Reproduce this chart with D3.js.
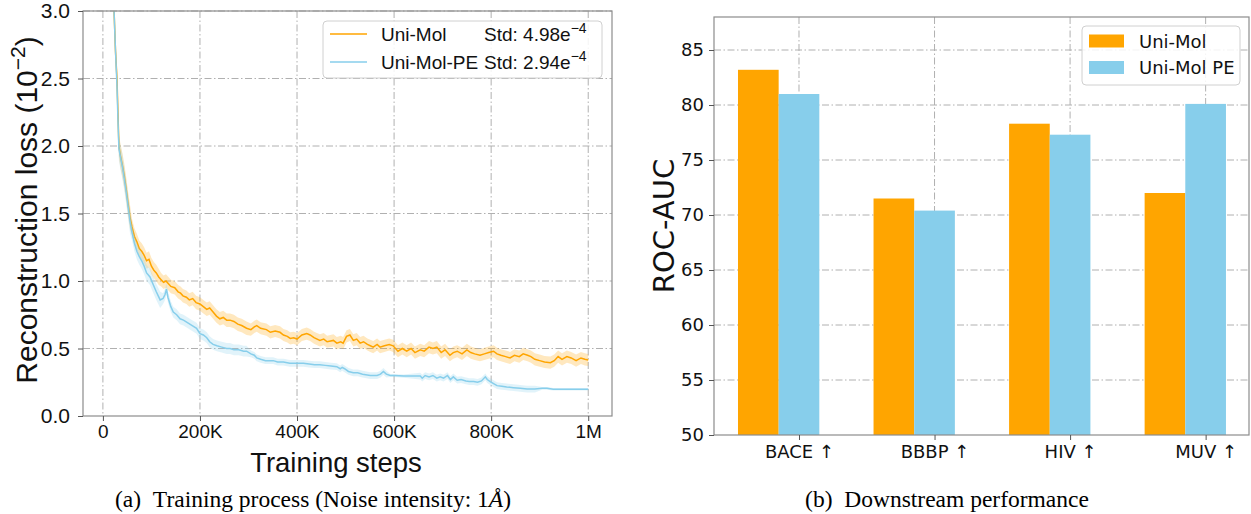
<!DOCTYPE html>
<html><head><meta charset="utf-8">
<script src="https://cdn.jsdelivr.net/npm/d3@7/dist/d3.min.js"></script>
<style>body{margin:0;background:#fff}svg{display:block}</style>
</head><body>
<svg id="c" width="1251" height="514"></svg>
<script>
// ---------- Data: left chart (training loss, units of 1e-2) ----------
const steps = [20,23,26,29,31,33,36,40,44,48,52,56,60,65,70,75,80,85,90,95,100,105,110,115,120,125,130,135,140,148,155,160,165,172,178,185,192,200,207,214,220,227,234,241,248,255,262,270,278,286,296,305,312,317,325,337,345,355,365,372,380,386,393,400,410,420,427,435,447,455,462,475,482,490,495,502,509,516,523,530,537,545,551,557,565,571,580,590,598,608,617,626,635,643,654,662,672,680,688,697,705,715,722,730,740,750,758,766,777,786,795,805,812,820,830,839,848,858,866,875,882,890,900,910,922,930,938,946,956,965,975,985,993,1000];
const uniMol = [3.6,3.0,2.7,2.5,2.25,2.0,1.93,1.86,1.78,1.68,1.57,1.47,1.40,1.33,1.29,1.24,1.22,1.19,1.15,1.16,1.11,1.08,1.06,1.03,1.01,0.99,1.00,0.98,0.96,0.95,0.92,0.91,0.89,0.88,0.86,0.87,0.84,0.83,0.81,0.79,0.80,0.77,0.74,0.72,0.73,0.71,0.71,0.70,0.68,0.67,0.65,0.64,0.66,0.67,0.65,0.64,0.62,0.63,0.62,0.60,0.59,0.575,0.58,0.57,0.60,0.61,0.60,0.58,0.56,0.57,0.55,0.56,0.54,0.55,0.54,0.59,0.60,0.56,0.57,0.54,0.55,0.53,0.52,0.51,0.53,0.51,0.52,0.53,0.52,0.48,0.50,0.48,0.50,0.47,0.49,0.48,0.51,0.50,0.51,0.47,0.49,0.45,0.47,0.48,0.46,0.49,0.47,0.46,0.45,0.46,0.47,0.48,0.46,0.45,0.44,0.43,0.45,0.44,0.46,0.45,0.44,0.42,0.41,0.40,0.395,0.41,0.44,0.42,0.44,0.43,0.41,0.43,0.42,0.415];
const stepsPE = [20,23,26,29,31,33,36,40,44,48,52,56,60,65,70,75,80,85,90,97,104,110,118,124,128,131,134,140,145,152,159,166,175,184,193,200,207,214,220,227,235,245,255,262,270,280,290,296,305,312,317,325,335,345,351,360,372,385,399,413,425,436,447,458,470,482,489,493,498,506,516,525,535,551,565,572,578,584,592,600,620,654,658,664,672,680,688,695,702,710,716,722,730,738,748,755,764,772,780,788,792,798,805,812,822,832,846,860,874,890,905,915,928,950,975,1000];
const uniMolPE = [3.6,3.0,2.7,2.45,2.2,1.98,1.92,1.85,1.76,1.66,1.55,1.44,1.36,1.28,1.22,1.18,1.15,1.11,1.06,1.03,0.97,0.92,0.86,0.87,0.90,0.94,0.88,0.81,0.77,0.75,0.72,0.71,0.69,0.67,0.65,0.61,0.60,0.58,0.55,0.53,0.52,0.51,0.50,0.50,0.49,0.49,0.48,0.48,0.46,0.45,0.43,0.42,0.41,0.41,0.41,0.40,0.40,0.39,0.39,0.39,0.385,0.38,0.38,0.375,0.37,0.365,0.35,0.36,0.35,0.33,0.32,0.32,0.31,0.30,0.30,0.31,0.33,0.31,0.30,0.30,0.296,0.296,0.28,0.30,0.29,0.30,0.28,0.29,0.28,0.30,0.27,0.29,0.265,0.27,0.26,0.255,0.255,0.25,0.26,0.29,0.27,0.254,0.24,0.225,0.22,0.215,0.21,0.205,0.20,0.20,0.205,0.205,0.198,0.198,0.198,0.198];
// band half-widths (std) by step range: [from step K, half-width]
const bandUniMol = [[0,0.09],[60,0.06],[120,0.05],[300,0.045]];
const bandUniMolPE = [[0,0.09],[60,0.06],[120,0.04],[300,0.025],[592,0.012],[654,0.025],[900,0.01]];
const xTickVals = [0,200,400,600,800,1000];
const xTickLabels = ["0","200K","400K","600K","800K","1M"];
const yTickVals = [0,0.5,1,1.5,2,2.5,3];

// ---------- Data: right chart (ROC-AUC) ----------
const tasks = ["BACE \u2191","BBBP \u2191","HIV \u2191","MUV \u2191"];
const aucUniMol = [83.2,71.5,78.3,72.0];
const aucUniMolPE = [81.0,70.4,77.3,80.1];
const aucTicks = [50,55,60,65,70,75,80,85];

const ORANGE = "#FFA500", BLUE = "#87CEEB";
const GRID = "#b0b0b0", SPINE = "#8c8c8c";
const LF = "'Liberation Sans', Arial, sans-serif";
const DF = "'DejaVu Sans', Verdana, sans-serif";
const SF = "'Liberation Serif', 'Times New Roman', serif";
const svg = d3.select("#c");

// ================= LEFT CHART =================
const L = {l:83, r:612, t:11, b:416};
const xL = d3.scaleLinear().domain([-41, 1049]).range([L.l, L.r]);
const yL = d3.scaleLinear().domain([0, 3]).range([L.b, L.t]);
const gL = svg.append("g");
svg.append("defs").append("clipPath").attr("id","clipL")
  .append("rect").attr("x",L.l).attr("y",L.t).attr("width",L.r-L.l).attr("height",L.b-L.t);

gL.append("g").selectAll("line").data(xTickVals).join("line")
  .attr("x1",d=>xL(d)).attr("x2",d=>xL(d)).attr("y1",L.t).attr("y2",L.b)
  .attr("stroke",GRID).attr("stroke-width",1).attr("stroke-dasharray","7,2.5,1.5,2.5");
gL.append("g").selectAll("line").data(yTickVals.slice(1)).join("line")
  .attr("x1",L.l).attr("x2",L.r).attr("y1",d=>yL(d)).attr("y2",d=>yL(d))
  .attr("stroke",GRID).attr("stroke-width",1).attr("stroke-dasharray","7,2.5,1.5,2.5");

function bandOf(table, s){ let w = table[0][1]; for (const [k,v] of table) if (s>=k) w=v; return w; }
function drawSeries(xs, ys, band, color){
  const pts = xs.map((s,i)=>({s, v:ys[i], w:bandOf(band,s)}));
  const area = d3.area().x(d=>xL(d.s)).y0(d=>yL(d.v-d.w)).y1(d=>yL(d.v+d.w));
  const line = d3.line().x(d=>xL(d.s)).y(d=>yL(d.v));
  gL.append("path").attr("d",area(pts)).attr("fill",color).attr("fill-opacity",0.25).attr("clip-path","url(#clipL)");
  gL.append("path").attr("d",line(pts)).attr("fill","none").attr("stroke",color).attr("stroke-width",1.5).attr("clip-path","url(#clipL)");
}
drawSeries(steps, uniMol, bandUniMol, ORANGE);
drawSeries(stepsPE, uniMolPE, bandUniMolPE, BLUE);

gL.append("rect").attr("x",L.l).attr("y",L.t).attr("width",L.r-L.l).attr("height",L.b-L.t)
  .attr("fill","none").attr("stroke",SPINE).attr("stroke-width",1.2);

const axXL = gL.append("g").attr("transform",`translate(0,${L.b})`)
  .call(d3.axisBottom(xL).tickValues(xTickVals).tickFormat((d,i)=>xTickLabels[i]).tickSize(5).tickPadding(4));
const axYL = gL.append("g").attr("transform",`translate(${L.l},0)`)
  .call(d3.axisLeft(yL).tickValues(yTickVals).tickFormat(d3.format(".1f")).tickSize(5).tickPadding(8));
[axXL, axYL].forEach(a=>{
  a.select(".domain").remove();
  a.selectAll("line").attr("stroke","#555");
  a.selectAll("text").attr("font-family",LF).attr("fill","#111");
});
axXL.selectAll("text").attr("font-size",19);
axYL.selectAll("text").attr("font-size",21);

gL.append("text").attr("x",336).attr("y",472).attr("text-anchor","middle")
  .attr("font-family",LF).attr("font-size",27.5).attr("fill","#111")
  .text("Training steps");
const yl = gL.append("text").attr("transform","translate(37,210) rotate(-90)").attr("text-anchor","middle")
  .attr("font-family",LF).attr("font-size",30).attr("fill","#111");
yl.append("tspan").text("Reconstruction loss (10");
yl.append("tspan").attr("dy",-12).attr("font-size",21).text("\u22122");
yl.append("tspan").attr("dy",12).text(")");

const lg = gL.append("g");
lg.append("rect").attr("x",323).attr("y",21).attr("width",279).attr("height",57).attr("rx",4)
  .attr("fill","#fff").attr("fill-opacity",0.85).attr("stroke","#d0d0d0").attr("stroke-width",1);
const legL = [
  {name:"Uni-Mol", std:"4.98", color:ORANGE, y:34},
  {name:"Uni-Mol-PE", std:"2.94", color:BLUE, y:62}
];
legL.forEach(d=>{
  lg.append("line").attr("x1",330).attr("x2",367).attr("y1",d.y).attr("y2",d.y).attr("stroke",d.color).attr("stroke-width",1.5);
  lg.append("text").attr("x",381).attr("y",d.y+7).attr("font-family",LF)
    .attr("font-size",19).attr("fill","#111").text(d.name);
  const t = lg.append("text").attr("x",484).attr("y",d.y+7).attr("font-family",LF)
    .attr("font-size",19).attr("fill","#111");
  t.append("tspan").text("Std: "+d.std+"e");
  t.append("tspan").attr("dy",-8).attr("font-size",14).text("\u22124");
});

const capA = svg.append("text").attr("x",313).attr("y",507).attr("text-anchor","middle")
  .attr("font-family",SF).attr("font-size",23.5).attr("fill","#000");
capA.append("tspan").text("(a)\u2002Training process (Noise intensity: 1");
capA.append("tspan").attr("font-style","italic").text("\u00C5");
capA.append("tspan").text(")");

// ================= RIGHT CHART =================
const R = {l:714, r:1249, t:17, b:435};
const xR = d3.scaleLinear().domain([-0.627, 3.32]).range([R.l, R.r]);
const yR = d3.scaleLinear().domain([50, 88]).range([R.b, R.t]);
const gR = svg.append("g");
const idx = tasks.map((_,i)=>i);

gR.append("g").selectAll("line").data(idx).join("line")
  .attr("x1",d=>xR(d)).attr("x2",d=>xR(d)).attr("y1",R.t).attr("y2",R.b)
  .attr("stroke",GRID).attr("stroke-width",1).attr("stroke-dasharray","7,2.5,1.5,2.5");
gR.append("g").selectAll("line").data(aucTicks.slice(1)).join("line")
  .attr("x1",R.l).attr("x2",R.r).attr("y1",d=>yR(d)).attr("y2",d=>yR(d))
  .attr("stroke",GRID).attr("stroke-width",1).attr("stroke-dasharray","7,2.5,1.5,2.5");

const W = 0.3;
gR.append("g").selectAll("rect").data(aucUniMol).join("rect")
  .attr("x",(d,i)=>xR(i-1.5*W)).attr("width",(d,i)=>xR(i-0.5*W)-xR(i-1.5*W))
  .attr("y",d=>yR(d)).attr("height",d=>yR(50)-yR(d)).attr("fill",ORANGE);
gR.append("g").selectAll("rect").data(aucUniMolPE).join("rect")
  .attr("x",(d,i)=>xR(i-0.5*W)).attr("width",(d,i)=>xR(i+0.5*W)-xR(i-0.5*W))
  .attr("y",d=>yR(d)).attr("height",d=>yR(50)-yR(d)).attr("fill",BLUE);

gR.append("rect").attr("x",R.l).attr("y",R.t).attr("width",R.r-R.l).attr("height",R.b-R.t)
  .attr("fill","none").attr("stroke",SPINE).attr("stroke-width",1.2);

const axXR = gR.append("g").attr("transform",`translate(0,${R.b})`)
  .call(d3.axisBottom(xR).tickValues(idx).tickFormat(i=>tasks[i]).tickSize(5).tickPadding(5));
const axYR = gR.append("g").attr("transform",`translate(${R.l},0)`)
  .call(d3.axisLeft(yR).tickValues(aucTicks).tickFormat(d3.format("d")).tickSize(5).tickPadding(5));
[axXR, axYR].forEach(a=>{
  a.select(".domain").remove();
  a.selectAll("line").attr("stroke","#555");
  a.selectAll("text").attr("font-family",DF).attr("font-size",18).attr("fill","#111");
});

gR.append("text").attr("transform","translate(674,226) rotate(-90)").attr("text-anchor","middle")
  .attr("font-family",DF).attr("font-size",29).attr("fill","#111").text("ROC-AUC");

const lr = gR.append("g");
lr.append("rect").attr("x",1082).attr("y",26).attr("width",158).attr("height",59).attr("rx",4)
  .attr("fill","#fff").attr("fill-opacity",0.85).attr("stroke","#d0d0d0").attr("stroke-width",1);
[{n:"Uni-Mol",c:ORANGE,y:34.5},{n:"Uni-Mol PE",c:BLUE,y:61}].forEach(d=>{
  lr.append("rect").attr("x",1089).attr("y",d.y).attr("width",35).attr("height",13).attr("fill",d.c);
  lr.append("text").attr("x",1139).attr("y",d.y+13).attr("font-family",DF).attr("font-size",18).attr("fill","#111").text(d.n);
});

svg.append("text").attr("x",947).attr("y",507).attr("text-anchor","middle")
  .attr("font-family",SF).attr("font-size",23.5).attr("fill","#000")
  .text("(b)\u2002Downstream performance");
</script>
</body></html>
